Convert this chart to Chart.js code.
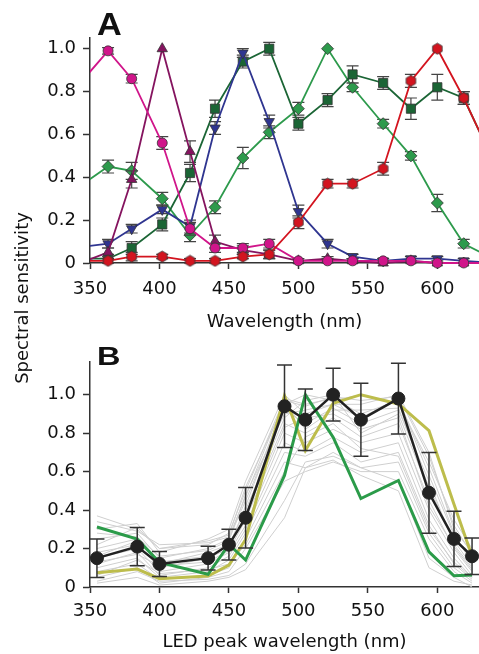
<!DOCTYPE html>
<html>
<head>
<meta charset="utf-8">
<script src="https://cdn.jsdelivr.net/npm/chart.js@4.4.0/dist/chart.umd.min.js"></script>
<style>
  body { margin: 0; background: #fff; font-family: "DejaVu Sans", sans-serif; }
  #page { position: relative; width: 479px; height: 654px; overflow: hidden; }
  canvas { position: absolute; left: 0; }
  .letter { position: absolute; font-family: "Liberation Sans", Arial, sans-serif; font-weight: bold;
            color: #111; line-height: 1; transform-origin: left top; }
  #ytitle { position: absolute; left: -98px; top: 287px; width: 240px; height: 22px; line-height: 22px;
            text-align: center; font-size: 18px; color: #111; transform: rotate(-90deg); }
</style>
</head>
<body>
<div id="page">
  <canvas id="chartA" width="479" height="335" style="top:0"></canvas>
  <canvas id="chartB" width="479" height="319" style="top:335px"></canvas>
  <div class="letter" style="left:97px;top:8px;font-size:32px;transform:scaleX(1.07)">A</div>
  <div class="letter" style="left:97px;top:343px;font-size:26px;transform:scaleX(1.25)">B</div>
  <div id="ytitle">Spectral sensitivity</div>
</div>
<script>
// ---- Panel A data (photoreceptor spectral sensitivities) ----
const wavelengthA = [343, 363, 380, 402, 422, 440, 460, 479, 500, 521, 539, 561, 581, 600, 619, 640];

const magentaA    = [0.84, 0.99, 0.86, 0.56, 0.16, 0.07, 0.07, 0.09, 0.01, 0.01, 0.01, 0.01, 0.01, 0.00, 0.00, 0.00];
const magentaErrA = [0, 0.015, 0.02, 0.03, 0.03, 0.02, 0.02, 0.02, 0, 0.01, 0, 0, 0, 0, 0, 0];

const purpleA     = [0.00, 0.05, 0.39, 1.00, 0.52, 0.10, 0.06, 0.04, 0.01, 0.02, 0.01, 0.00, 0.01, 0.00, 0.00, 0.00];
const purpleErrA  = [0, 0.02, 0.04, 0, 0.05, 0.03, 0.02, 0.02, 0.01, 0.01, 0.01, 0, 0, 0, 0, 0];

const blueA       = [0.075, 0.09, 0.16, 0.25, 0.17, 0.63, 0.98, 0.66, 0.24, 0.09, 0.03, 0.01, 0.02, 0.02, 0.01, 0.00];
const blueErrA    = [0, 0.02, 0.02, 0.02, 0.03, 0.03, 0.02, 0.03, 0.03, 0.02, 0.01, 0.01, 0.01, 0.01, 0.01, 0];

const darkGreenA    = [0.02, 0.02, 0.07, 0.18, 0.42, 0.72, 0.94, 1.00, 0.65, 0.76, 0.88, 0.84, 0.72, 0.82, 0.77, 0.48];
const darkGreenErrA = [0, 0.02, 0.03, 0.03, 0.04, 0.04, 0.03, 0.03, 0.03, 0.03, 0.04, 0.03, 0.05, 0.06, 0.03, 0];

const greenA      = [0.36, 0.45, 0.43, 0.30, 0.13, 0.26, 0.49, 0.61, 0.72, 1.00, 0.82, 0.65, 0.50, 0.28, 0.09, 0.02];
const greenErrA   = [0, 0.03, 0.04, 0.03, 0.03, 0.03, 0.05, 0.03, 0.03, 0, 0.02, 0.02, 0.02, 0.04, 0.02, 0];

const redA        = [0.01, 0.01, 0.03, 0.03, 0.01, 0.01, 0.03, 0.04, 0.19, 0.37, 0.37, 0.44, 0.85, 1.00, 0.77, 0.48];
const redErrA     = [0, 0.01, 0.02, 0.01, 0.01, 0.01, 0.01, 0.02, 0.03, 0.02, 0.02, 0.03, 0.03, 0, 0.03, 0];

// ---- Panel B data (LED responses) ----
const wavelengthB = [355, 384, 400, 435, 450, 462, 490, 505, 525, 545, 572, 594, 612, 625];
const meanB     = [0.15, 0.21, 0.12, 0.15, 0.22, 0.36, 0.94, 0.87, 1.00, 0.87, 0.98, 0.49, 0.25, 0.16];
const meanErrB  = [0.10, 0.10, 0.065, 0.062, 0.08, 0.157, 0.215, 0.16, 0.137, 0.19, 0.184, 0.21, 0.144, 0.095];
const oliveB    = [0.074, 0.093, 0.043, 0.057, 0.114, 0.247, 0.995, 0.71, 0.955, 1.00, 0.952, 0.813, 0.43, 0.16];
const greenB    = [0.312, 0.249, 0.128, 0.066, 0.221, 0.14, 0.58, 1.00, 0.779, 0.46, 0.554, 0.183, 0.058, 0.062];
const grayB = [
  [0.37, 0.30, 0.20, 0.22, 0.28, 0.50, 0.98, 0.95, 0.98, 0.90, 0.97, 0.62, 0.28, 0.12],
  [0.30, 0.33, 0.18, 0.25, 0.30, 0.55, 1.00, 0.90, 0.95, 0.95, 1.00, 0.70, 0.30, 0.18],
  [0.25, 0.28, 0.15, 0.20, 0.25, 0.45, 0.92, 0.85, 0.93, 0.85, 0.92, 0.55, 0.22, 0.10],
  [0.20, 0.25, 0.12, 0.18, 0.22, 0.40, 0.88, 0.97, 1.00, 0.80, 0.90, 0.50, 0.25, 0.15],
  [0.18, 0.22, 0.10, 0.15, 0.20, 0.38, 0.85, 0.80, 0.88, 0.78, 0.85, 0.45, 0.20, 0.08],
  [0.15, 0.20, 0.08, 0.12, 0.18, 0.32, 0.80, 0.75, 0.82, 0.75, 0.80, 0.40, 0.18, 0.06],
  [0.12, 0.18, 0.06, 0.10, 0.16, 0.30, 0.75, 0.70, 0.78, 0.70, 0.75, 0.35, 0.15, 0.05],
  [0.10, 0.15, 0.05, 0.08, 0.14, 0.28, 0.70, 0.68, 0.75, 0.65, 0.70, 0.32, 0.12, 0.04],
  [0.08, 0.12, 0.04, 0.06, 0.10, 0.25, 0.65, 0.62, 0.70, 0.62, 0.65, 0.28, 0.10, 0.03],
  [0.05, 0.10, 0.02, 0.05, 0.08, 0.20, 0.55, 0.60, 0.65, 0.60, 0.60, 0.25, 0.08, 0.02],
  [0.03, 0.08, 0.03, 0.04, 0.06, 0.12, 0.45, 0.65, 0.68, 0.62, 0.55, 0.15, 0.05, 0.00],
  [0.22, 0.31, 0.20, 0.24, 0.27, 0.52, 0.95, 1.00, 0.97, 1.00, 0.95, 0.65, 0.35, 0.20],
  [0.28, 0.26, 0.16, 0.19, 0.24, 0.48, 0.90, 0.92, 0.95, 0.88, 0.98, 0.58, 0.27, 0.14],
  [0.13, 0.17, 0.11, 0.13, 0.19, 0.35, 0.83, 0.88, 0.90, 0.82, 0.88, 0.42, 0.21, 0.09],
  [0.06, 0.14, 0.07, 0.09, 0.12, 0.22, 0.60, 0.78, 0.85, 0.72, 0.68, 0.30, 0.13, 0.05],
  [0.16, 0.24, 0.13, 0.16, 0.21, 0.42, 0.96, 0.82, 0.92, 0.92, 0.93, 0.52, 0.24, 0.11],
  [0.02, 0.05, 0.01, 0.03, 0.05, 0.09, 0.36, 0.62, 0.66, 0.58, 0.50, 0.10, 0.03, 0.01],
  [0.34, 0.29, 0.22, 0.23, 0.26, 0.47, 0.97, 0.94, 0.99, 0.97, 0.99, 0.68, 0.32, 0.17]
];

// ---- ticks ----
const xTicks = [350, 400, 450, 500, 550, 600];
const yTicks = [0, 0.2, 0.4, 0.6, 0.8, 1.0];

Chart.defaults.font.family = '"DejaVu Sans", sans-serif';
Chart.defaults.color = '#111';

function toPoints(xs, ys) {
  return xs.map((x, i) => ({ x: x, y: ys[i] }));
}

// hexagon marker for the red series
function hexMarker(fill, stroke, r) {
  const c = document.createElement('canvas');
  const s = Math.ceil(r * 2 + 2);
  c.width = s; c.height = s;
  const g = c.getContext('2d');
  g.beginPath();
  for (let k = 0; k < 6; k++) {
    const a = -Math.PI / 2 + k * Math.PI / 3;
    const px = s / 2 + r * Math.cos(a), py = s / 2 + r * Math.sin(a);
    if (k === 0) g.moveTo(px, py); else g.lineTo(px, py);
  }
  g.closePath();
  g.fillStyle = fill; g.fill();
  g.strokeStyle = stroke; g.lineWidth = 0.8; g.stroke();
  return c;
}

// error bars drawn just before each dataset, so its own markers sit on top
const errorBars = {
  id: 'errorBars',
  beforeDatasetDraw(chart, args) {
    const ds = chart.data.datasets[args.index];
    if (!ds.errors) return;
    const ctx = chart.ctx;
    const y = chart.scales.y;
    const half = ds.capWidth / 2;
    ctx.save();
    ctx.strokeStyle = ds.errorColor;
    ctx.lineWidth = ds.errorWidth;
    args.meta.data.forEach((pt, j) => {
      const e = ds.errors[j];
      if (!e) return;
      const v = ds.data[j].y;
      const top = y.getPixelForValue(v + e);
      const bot = y.getPixelForValue(v - e);
      ctx.beginPath();
      ctx.moveTo(pt.x, top); ctx.lineTo(pt.x, bot);
      ctx.moveTo(pt.x - half, top); ctx.lineTo(pt.x + half, top);
      ctx.moveTo(pt.x - half, bot); ctx.lineTo(pt.x + half, bot);
      ctx.stroke();
    });
    ctx.restore();
  }
};

function axisOptions(height, ymax, titleText, labelPad, titlePad) {
  return {
    x: {
      type: 'linear', min: 350, max: 630,
      afterBuildTicks: s => { s.ticks = xTicks.map(v => ({ value: v })); },
      afterFit: s => { s.height = height; },
      grid: { display: true, drawOnChartArea: false, tickLength: 6, tickColor: '#333', tickWidth: 1.5 },
      border: { color: '#333', width: 1.5 },
      ticks: { font: { size: 18 }, padding: labelPad, maxRotation: 0, callback: v => String(v) },
      title: { display: true, text: titleText, font: { size: 18 }, padding: { top: 0, bottom: titlePad } }
    },
    y: {
      min: 0, max: ymax,
      afterBuildTicks: s => { s.ticks = yTicks.map(v => ({ value: v })); },
      afterFit: s => { s.width = 90; },
      grid: { display: true, drawOnChartArea: false, tickLength: 7, tickColor: '#333', tickWidth: 1.5 },
      border: { color: '#333', width: 1.5 },
      ticks: { font: { size: 18 }, padding: 7, callback: v => v === 0 ? '0' : v.toFixed(1) }
    }
  };
}

const clipX = { left: 0, right: 0, top: false, bottom: false };

function seriesA(values, errors, color, style, radius, rotation) {
  return {
    data: toPoints(wavelengthA, values),
    errors: errors, errorColor: '#444', errorWidth: 1.2, capWidth: 12,
    borderColor: color, borderWidth: 1.8,
    pointStyle: style, pointRadius: radius, pointRotation: rotation || 0,
    pointBackgroundColor: color, pointBorderColor: '#333', pointBorderWidth: 0.8,
    clip: clipX
  };
}

new Chart(document.getElementById('chartA'), {
  type: 'line',
  data: {
    datasets: [
      seriesA(redA, redErrA, '#d3141f', hexMarker('#d3141f', '#333', 5.5), 5),
      seriesA(magentaA, magentaErrA, '#d0158a', 'circle', 5),
      seriesA(purpleA, purpleErrA, '#85145f', 'triangle', 6),
      seriesA(blueA, blueErrA, '#2f3590', 'triangle', 6, 180),
      seriesA(darkGreenA, darkGreenErrA, '#1b6535', 'rect', 6.5),
      seriesA(greenA, greenErrA, '#2d9a4c', 'rectRot', 6)
    ]
  },
  options: {
    responsive: false,
    animation: false,
    layout: { autoPadding: false, padding: { top: 38, right: 0, bottom: 0, left: 0 } },
    plugins: { legend: { display: false }, tooltip: { enabled: false } },
    scales: axisOptions(335 - 263, 1.05, 'Wavelength (nm)', 10, 2)
  },
  plugins: [errorBars]
});

const datasetsB = grayB.map(g => ({
  data: toPoints(wavelengthB, g),
  borderColor: '#cfcfcf', borderWidth: 1, pointRadius: 0, order: 3, clip: clipX
}));
datasetsB.push({
  data: toPoints(wavelengthB, greenB),
  borderColor: '#2b9b49', borderWidth: 3, pointRadius: 0, order: 1, clip: clipX
});
datasetsB.push({
  data: toPoints(wavelengthB, oliveB),
  borderColor: '#bdbd4c', borderWidth: 3, pointRadius: 0, order: 2, clip: clipX
});
datasetsB.push({
  data: toPoints(wavelengthB, meanB),
  errors: meanErrB, errorColor: '#333', errorWidth: 1.5, capWidth: 15,
  borderColor: '#222', borderWidth: 2.5,
  pointRadius: 6.5, pointBackgroundColor: '#222', pointBorderColor: '#222', pointBorderWidth: 1,
  order: 0, clip: clipX
});

new Chart(document.getElementById('chartB'), {
  type: 'line',
  data: { datasets: datasetsB },
  options: {
    responsive: false,
    animation: false,
    layout: { autoPadding: false, padding: { top: 27, right: 0, bottom: 0, left: 0 } },
    plugins: { legend: { display: false }, tooltip: { enabled: false } },
    scales: axisOptions(319 - 252, 1.17, 'LED peak wavelength (nm)', 8, 1)
  },
  plugins: [errorBars]
});
</script>
</body>
</html>
